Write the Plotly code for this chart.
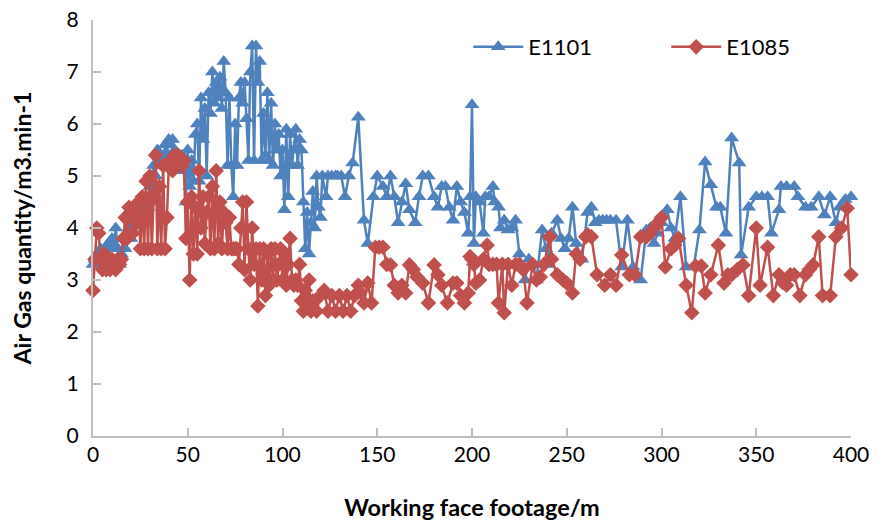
import plotly.graph_objects as go

# ---- data ----
e1101_x = list(range(0, 122)) + [
    123, 124, 126, 128, 129, 131, 133, 135, 137, 140, 143, 145, 148, 150, 153, 155, 157, 159, 161, 163,
    165, 167, 170, 172, 174, 177, 180, 182, 184, 186, 188, 190, 192, 194, 196, 198, 199, 200, 201, 202,
    204, 206, 207, 209, 211, 212, 214, 215, 217, 219, 221, 223, 225, 228, 230, 232, 234, 237, 239, 240,
    242, 245, 247, 249, 251, 253, 255, 258, 261, 263, 265, 267, 269, 271, 273, 276, 279, 282, 285, 289,
    292, 294, 296, 298, 300, 303, 305, 307, 310, 313, 317, 320, 323, 326, 329, 331, 334, 337, 341, 342,
    346, 350, 353, 356, 358, 362, 363, 366, 370, 372, 376, 379, 383, 386, 389, 392, 394, 397, 400]
e1101_y = [
    3.3, 3.4, 3.5, 3.3, 3.6, 3.4, 3.6, 3.5, 3.7, 3.6, 3.8, 3.7, 4.0, 3.6, 3.3, 3.5, 3.8, 3.6, 3.8, 4.0,
    3.8, 4.1, 4.3, 4.2, 4.4, 4.2, 4.5, 4.3, 4.6, 4.4, 4.8, 4.5, 5.2, 5.0, 5.5, 5.2, 5.4, 5.3, 5.6, 5.4,
    5.7, 5.6, 5.7, 5.5, 5.4, 5.3, 5.2, 5.4, 5.1, 4.5, 5.5, 4.8, 5.3, 4.9, 5.8, 6.0, 4.9, 6.5, 5.7, 6.3,
    5.0, 6.6, 6.2, 7.0, 6.4, 6.8, 6.5, 6.9, 6.3, 7.2, 6.6, 5.2, 6.5, 5.2, 4.6, 6.0, 5.2, 6.5, 6.8, 6.4,
    6.8, 6.1, 5.3, 7.0, 7.5, 5.3, 7.5, 6.8, 7.2, 5.3, 6.2, 5.4, 6.6, 5.3, 6.4, 5.2, 6.0, 5.5, 5.8, 5.0,
    5.5, 4.35, 5.9, 4.6, 5.8, 5.2, 5.5, 5.9, 5.2, 5.7, 5.5, 4.5, 3.6, 4.3, 3.5, 4.1, 4.7, 4.0, 5.0, 4.4,
    4.2, 5.0,
    4.6, 5.0, 5.0, 5.0, 5.0, 5.0, 4.6, 5.0, 5.25, 6.13, 4.15, 3.7, 4.6, 5.0, 4.8, 4.6, 5.0, 4.6, 4.1, 4.5,
    4.85, 4.35, 4.1, 4.6, 5.0, 5.0, 4.6, 4.4, 4.8, 4.8, 4.4, 4.15, 4.8, 4.5, 4.3, 3.9, 4.6, 6.37, 3.7, 4.6,
    4.5, 3.9, 4.6, 4.6, 4.8, 4.5, 4.4, 4.0, 4.15, 3.96, 4.0, 4.15, 3.5, 3.0, 3.4, 3.3, 3.0, 3.96, 3.6, 3.3,
    3.9, 4.15, 3.8, 3.6, 3.8, 4.4, 3.7, 3.4, 4.3, 4.4, 4.1, 4.15, 4.15, 4.15, 4.15, 4.15, 3.25, 4.15, 3.25, 3.0,
    3.96, 4.0, 3.7, 3.9, 4.1, 4.35, 4.0, 3.8, 4.6, 3.25, 3.25, 3.96, 5.27, 4.83, 4.4, 4.4, 3.9, 5.73, 5.25, 3.48,
    4.4, 4.6, 4.6, 4.6, 3.9, 4.35, 4.8, 4.8, 4.8, 4.6, 4.4, 4.4, 4.6, 4.25, 4.6, 4.1, 4.4, 4.55, 4.6]

e1085_x = list(range(0, 117)) + [
    118, 120, 122, 124, 126, 128, 130, 132, 134, 136, 138, 140, 141, 143, 145, 147, 149, 151, 153, 155,
    157, 159, 161, 163, 165, 167, 169, 171, 174, 177, 180, 182, 184, 187, 190, 192, 194, 196, 198, 199,
    200, 201, 202, 204, 206, 208, 209, 211, 213, 214, 216, 217, 219, 221, 223, 225, 227, 229, 232, 234,
    236, 238, 241, 242, 245, 248, 250, 253, 255, 257, 260, 261, 263, 266, 270, 273, 276, 279, 283, 286,
    289, 292, 294, 296, 298, 300, 302, 305, 307, 309, 313, 316, 318, 321, 323, 326, 330, 333, 335, 337,
    340, 343, 346, 350, 352, 356, 359, 362, 364, 366, 368, 370, 373, 376, 378, 380, 383, 385, 389, 392,
    395, 398, 400]
e1085_y = [
    2.8, 3.4, 4.0, 3.9, 3.4, 3.2, 3.5, 3.2, 3.3, 3.2, 3.4, 3.3, 3.2, 3.4, 3.3, 3.4, 3.8, 4.2, 3.8, 4.4,
    4.3, 3.9, 4.3, 4.1, 4.5, 3.6, 4.6, 3.6, 4.9, 3.6, 5.0, 3.6, 4.6, 5.4, 3.6, 4.8, 3.6, 5.2, 3.6, 4.2,
    5.2, 5.3, 5.1, 5.4, 5.2, 5.4, 5.3, 5.2, 5.3, 3.8, 4.5, 3.0, 4.6, 3.5, 4.4, 3.5, 5.1, 4.0, 4.6, 3.7,
    4.3, 4.6, 3.6, 4.8, 3.6, 5.1, 3.7, 4.5, 3.6, 4.3, 4.1, 3.6, 4.2, 3.6, 3.6, 3.6, 3.6, 3.3, 4.0, 4.5,
    3.2, 4.5, 3.6, 3.0, 4.0, 3.3, 3.6, 2.5, 3.6, 3.0, 3.6, 2.7, 3.5, 2.9, 3.6, 3.0, 3.6, 3.0, 3.3, 3.6,
    3.0, 3.5, 2.9, 3.3, 3.8, 3.0, 2.9, 3.0, 2.9, 3.3, 2.6, 2.4, 2.8, 2.5, 3.0, 2.4, 2.6,
    2.4, 2.7, 2.8, 2.4, 2.7, 2.4, 2.7, 2.4, 2.7, 2.4, 2.7, 2.9, 2.77, 2.56, 2.94, 2.56, 3.63, 3.63, 3.63, 3.3,
    3.29, 2.9, 2.75, 2.9, 2.75, 3.29, 3.2, 3.06, 2.94, 2.56, 3.29, 3.1, 2.9, 2.56, 2.94, 2.94, 2.7, 2.56, 2.75, 3.45,
    3.4, 3.3, 2.94, 3.0, 3.4, 3.67, 3.3, 3.3, 3.3, 2.56, 3.3, 2.37, 3.3, 2.9, 3.3, 3.3, 3.2, 2.56, 3.3, 3.0,
    3.06, 3.3, 3.83, 3.4, 3.1, 3.0, 2.94, 2.75, 3.5, 3.4, 3.83, 3.87, 3.83, 3.1, 2.9, 3.1, 2.9, 3.48, 3.1, 3.1,
    3.83, 3.83, 3.9, 4.0, 4.1, 4.2, 3.25, 3.6, 3.67, 3.8, 2.9, 2.37, 3.27, 3.27, 2.75, 3.1, 3.67, 2.94, 3.1, 3.1,
    3.2, 3.29, 2.7, 4.0, 2.9, 3.63, 2.7, 3.1, 2.95, 2.9, 3.1, 3.1, 2.7, 3.1, 3.2, 3.29, 3.83, 2.7, 2.7, 3.83,
    4.0, 4.38, 3.1]

x_ticks = [0, 50, 100, 150, 200, 250, 300, 350, 400]
y_ticks = [0, 1, 2, 3, 4, 5, 6, 7, 8]

BLUE = "#4F81BD"
RED = "#C0504D"
AXIS = "#BFBFBF"
FONT = "Lato"

fig = go.Figure()
fig.add_trace(go.Scatter(
    x=e1101_x, y=e1101_y, name="E1101", mode="lines+markers",
    line=dict(color=BLUE, width=2.5),
    marker=dict(symbol="triangle-up", size=13, color=BLUE),
    cliponaxis=False))
fig.add_trace(go.Scatter(
    x=e1085_x, y=e1085_y, name="E1085", mode="lines+markers",
    line=dict(color=RED, width=2.5),
    marker=dict(symbol="diamond", size=12, color=RED),
    cliponaxis=False))

fig.update_layout(
    width=887, height=521,
    margin=dict(l=93, r=36, t=20, b=85, autoexpand=False),
    paper_bgcolor="white", plot_bgcolor="white",
    font=dict(family=FONT, color="black", size=21),
    showlegend=True,
    legend=dict(orientation="h", x=0.495, y=0.935, xanchor="left", yanchor="middle",
                font=dict(family=FONT, size=22, color="black"),
                entrywidth=133, entrywidthmode="pixels", itemwidth=50,
                bgcolor="rgba(0,0,0,0)"),
    xaxis=dict(range=[0, 400], tickvals=x_ticks, ticktext=[str(v) for v in x_ticks],
               ticks="inside", ticklen=8, tickwidth=1.5, tickcolor=AXIS,
               showline=True, linecolor=AXIS, linewidth=2, showgrid=False, zeroline=False,
               tickfont=dict(family=FONT, size=21), ticklabelstandoff=-1,
               ticklabeloverflow="allow",
               title=dict(text="<b>Working face footage/m</b>", font=dict(family=FONT, size=23.5),
                          standoff=34)),
    yaxis=dict(range=[0, 8], tickvals=y_ticks, ticktext=[str(v) for v in y_ticks],
               ticks="inside", ticklen=8, tickwidth=1.5, tickcolor=AXIS,
               showline=True, linecolor=AXIS, linewidth=2, showgrid=False, zeroline=False,
               tickfont=dict(family=FONT, size=21), ticklabelstandoff=8,
               ticklabeloverflow="allow",
               title=dict(text="<b>Air Gas quantity/m3.min-1</b>", font=dict(family=FONT, size=23),
                          standoff=29)),
)

# remove the browser's default 8px page margin so the figure fills the window exactly
fig.write_html("out.html", config={"displayModeBar": False},
               post_script="document.body.style.margin='0';")
